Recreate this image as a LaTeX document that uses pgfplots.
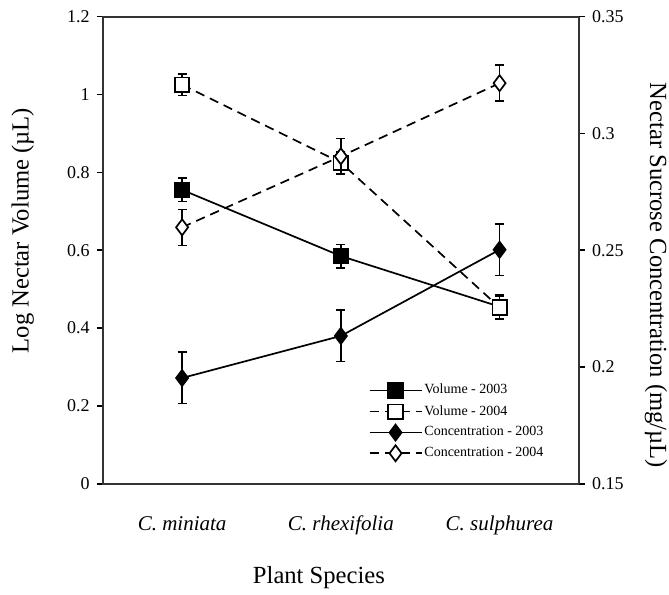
\documentclass[border=0pt]{standalone}
\usepackage{fontspec}
\setmainfont{Liberation Serif}
\usepackage{pgfplots}
\pgfplotsset{compat=1.18}

\newcommand{\labfont}{\fontsize{12.3}{14}\selectfont}

\pgfplotsset{
  base/.style={
    scale only axis, width=238pt, height=233.5pt,
    xmin=-0.5, xmax=2.5,
    axis line style={line width=0.9pt, black!80},
    tick align=outside, major tick length=3pt,
    tick style={line width=0.8pt, black},
    /pgf/number format/assume math mode=true,
    ticklabel style={font=\fontsize{9}{10}\selectfont},
    clip=false,
  },
  ser/.style={black, line width=0.85pt,
    error bars/y dir=both, error bars/y explicit,
    error bars/error bar style={line width=0.8pt, solid},
    error bars/error mark options={rotate=90, mark size=2.3pt, line width=0.8pt, solid}},
  dsh/.style={dash pattern=on 4.7pt off 3pt},
  legend image code/.code={
    \draw[#1, mark=none] (0pt,0pt) -- (26pt,0pt);
    \draw[#1, only marks] plot coordinates {(13pt,0pt)};
  },
}

\begin{document}
\begin{tikzpicture}
\path[use as bounding box] (-51.35pt,-55.35pt) rectangle (283pt,241.8pt);

% left axis: log nectar volume
\begin{axis}[base,
    ymin=0, ymax=1.2,
    ytick={0,0.2,0.4,0.6,0.8,1,1.2},
    ytick pos=left,
    xtick={0,1,2},
    xticklabels={C. miniata, C. rhexifolia, C. sulphurea},
    xtick style={draw=none},
    xticklabel style={font=\fontsize{10.5}{12}\selectfont\itshape, anchor=base, yshift=-20.5pt},
    xlabel={Plant Species},
    every axis x label/.style={at={(axis description cs:0.454,-0.2006)}, anchor=center, font=\labfont},
    ylabel={Log Nectar Volume (µL)},
    every axis y label/.style={at={(axis description cs:-0.168,0.542)}, rotate=90, anchor=center, font=\labfont},
  ]
  % Volume 2003
  \addplot[ser, mark=square*, mark size=3.6pt] coordinates {
    (0,0.755) +- (0,0.03) (1,0.585) +- (0,0.03) (2,0.455) +- (0,0.03)
  };
  % Volume 2004
  \addplot[ser, dsh, mark=square*, mark size=3.6pt, mark options={fill=white, solid}] coordinates {
    (0,1.025) +- (0,0.028) (1,0.825) +- (0,0.028) (2,0.453) +- (0,0.03)
  };
\end{axis}

% right axis: sucrose concentration
\begin{axis}[base,
    ymin=0.15, ymax=0.35,
    ytick={0.15,0.2,0.25,0.3,0.35},
    axis y line*=right, axis x line=none,
    ylabel={Nectar Sucrose Concentration (mg/µL)},
    every axis y label/.style={at={(axis description cs:1.162,0.446)}, rotate=-90, anchor=center, font=\labfont},
    legend style={at={(axis description cs:0.545,0.227)}, anchor=north west,
      draw=none, fill=none, font=\fontsize{7}{8}\selectfont,
      row sep=2.2pt, nodes={inner sep=1pt}},
    legend cell align=left,
  ]
  \addlegendimage{ser, mark=square*, mark size=3.6pt}
  \addlegendentry{Volume - 2003}
  \addlegendimage{ser, dsh, mark=square*, mark size=3.6pt, mark options={fill=white, solid}}
  \addlegendentry{Volume - 2004}
  % Concentration 2003
  \addplot[ser, mark=diamond*, mark size=4pt] coordinates {
    (0,0.1953) +- (0,0.011) (1,0.2133) +- (0,0.011) (2,0.2502) +- (0,0.011)
  };
  \addlegendentry{Concentration - 2003}
  % Concentration 2004
  \addplot[ser, dsh, mark=diamond*, mark size=4pt, mark options={fill=white, solid}] coordinates {
    (0,0.2598) +- (0,0.0077) (1,0.2902) +- (0,0.0077) (2,0.3215) +- (0,0.0077)
  };
  \addlegendentry{Concentration - 2004}
\end{axis}
\end{tikzpicture}
\end{document}
